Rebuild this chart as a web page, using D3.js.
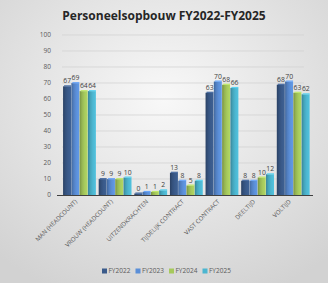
<!DOCTYPE html>
<html><head><meta charset="utf-8">
<script src="https://cdn.jsdelivr.net/npm/d3@7"></script>
<style>body{margin:0;background:#fff}svg{display:block}</style>
</head><body>
<svg id="c" width="328" height="283"></svg>
<script>
const categories = ["MAN (HEADCOUNT)","VROUW (HEADCOUNT)","UITZENDKRACHTEN","TIJDELIJK CONTRACT","VAST CONTRACT","DEELTIJD","VOLTIJD"];
const seriesNames = ["FY2022","FY2023","FY2024","FY2025"];
const fy2022 = [67, 9, 0, 13, 63, 8, 68];
const fy2023 = [69, 9, 1, 8, 70, 8, 70];
const fy2024 = [64, 9, 1, 5, 68, 10, 63];
const fy2025 = [64, 10, 2, 8, 66, 12, 62];
const yTicks = [0,10,20,30,40,50,60,70,80,90,100];
const colors = ["#3a5a8a","#5b8fd8","#a6c95c","#4cb6d0"];
const title = "Personeelsopbouw FY2022-FY2025";

const seriesVals = [fy2022, fy2023, fy2024, fy2025];
const svg = d3.select("#c");
const W = 328, H = 283;
const defs = svg.append("defs");
const bg = defs.append("radialGradient").attr("id","bg").attr("cx","50%").attr("cy","35%").attr("r","75%");
bg.append("stop").attr("offset","0%").attr("stop-color","#f8f8f8");
bg.append("stop").attr("offset","100%").attr("stop-color","#d2d2d2");
svg.append("rect").attr("width",W).attr("height",H).attr("fill","url(#bg)");

colors.forEach((c,i)=>{
  const g = defs.append("linearGradient").attr("id","g"+i).attr("x1","0").attr("x2","1");
  const col = d3.color(c);
  g.append("stop").attr("offset","0%").attr("stop-color",col.darker(0.9));
  g.append("stop").attr("offset","30%").attr("stop-color",col.darker(0.3));
  g.append("stop").attr("offset","60%").attr("stop-color",c);
  g.append("stop").attr("offset","100%").attr("stop-color",col.brighter(0.2));
});

const x0 = d3.scaleBand().domain(categories).range([62,311]).paddingInner(0.07).paddingOuter(0.03);
const x1 = d3.scaleBand().domain(seriesNames).range([0,x0.bandwidth()]).padding(0);
const y = d3.scaleLinear().domain([0,100]).range([195,35]);

const font = "'Open Sans', sans-serif";
svg.append("text").attr("x",164).attr("y",20).attr("text-anchor","middle")
  .attr("font-family",font).attr("font-weight","bold").attr("font-size",12).attr("fill","#262626").text(title);

// grid
svg.append("g").selectAll("line").data(yTicks.filter(d=>d>0)).join("line")
  .attr("x1",62).attr("x2",304).attr("y1",d=>y(d)).attr("y2",d=>y(d))
  .attr("stroke","#d0d0d0").attr("stroke-width",0.7);
svg.append("g").selectAll("text").data(yTicks).join("text")
  .attr("x",51).attr("y",d=>y(d)+2.3).attr("text-anchor","end")
  .attr("font-family",font).attr("font-size",6.5).attr("fill","#595959").text(d=>d);

// bars
const gCat = svg.append("g").selectAll("g").data(categories).join("g")
  .attr("transform",c=>`translate(${x0(c)},0)`);
seriesNames.forEach((s,si)=>{
  gCat.append("rect")
    .attr("x",x1(s)).attr("width",x1.bandwidth()-0.3)
    .attr("y",(c,ci)=>y(seriesVals[si][ci])-1.5)
    .attr("height",(c,ci)=>Math.max(1.5, y(0)-y(seriesVals[si][ci])+1.5))
    .attr("fill",`url(#g${si})`);
  gCat.append("rect")
    .attr("x",x1(s)+1).attr("width",x1.bandwidth()-1.3)
    .attr("y",(c,ci)=>y(seriesVals[si][ci])-2.5).attr("height",1.2)
    .attr("fill",d3.color(colors[si]).brighter(0.4));
  gCat.append("text")
    .attr("x",x1(s)+x1.bandwidth()/2).attr("y",(c,ci)=>y(seriesVals[si][ci])-4.5)
    .attr("text-anchor","middle").attr("font-family",font).attr("font-size",6.8).attr("fill","#404040")
    .text((c,ci)=>seriesVals[si][ci]);
});

// axis line
svg.append("line").attr("x1",57).attr("x2",313).attr("y1",195.5).attr("y2",195.5).attr("stroke","#404040").attr("stroke-width",1);

// x labels
svg.append("g").selectAll("text").data(categories).join("text")
  .attr("transform",c=>`translate(${x0(c)+x0.bandwidth()/2-2},202) rotate(-45)`)
  .attr("text-anchor","end").attr("font-family",font).attr("font-size",6.1).attr("fill","#595959").text(c=>c);

// legend
const lg = svg.append("g").selectAll("g").data(seriesNames).join("g")
  .attr("transform",(d,i)=>`translate(${102+i*33.5},271)`);
lg.append("rect").attr("x",0).attr("y",-2.5).attr("width",5).attr("height",5).attr("fill",(d,i)=>colors[i]);
lg.append("text").attr("x",6.5).attr("y",2.3).attr("font-family",font).attr("font-size",6.5).attr("fill","#595959").text(d=>d);
</script>
</body></html>
